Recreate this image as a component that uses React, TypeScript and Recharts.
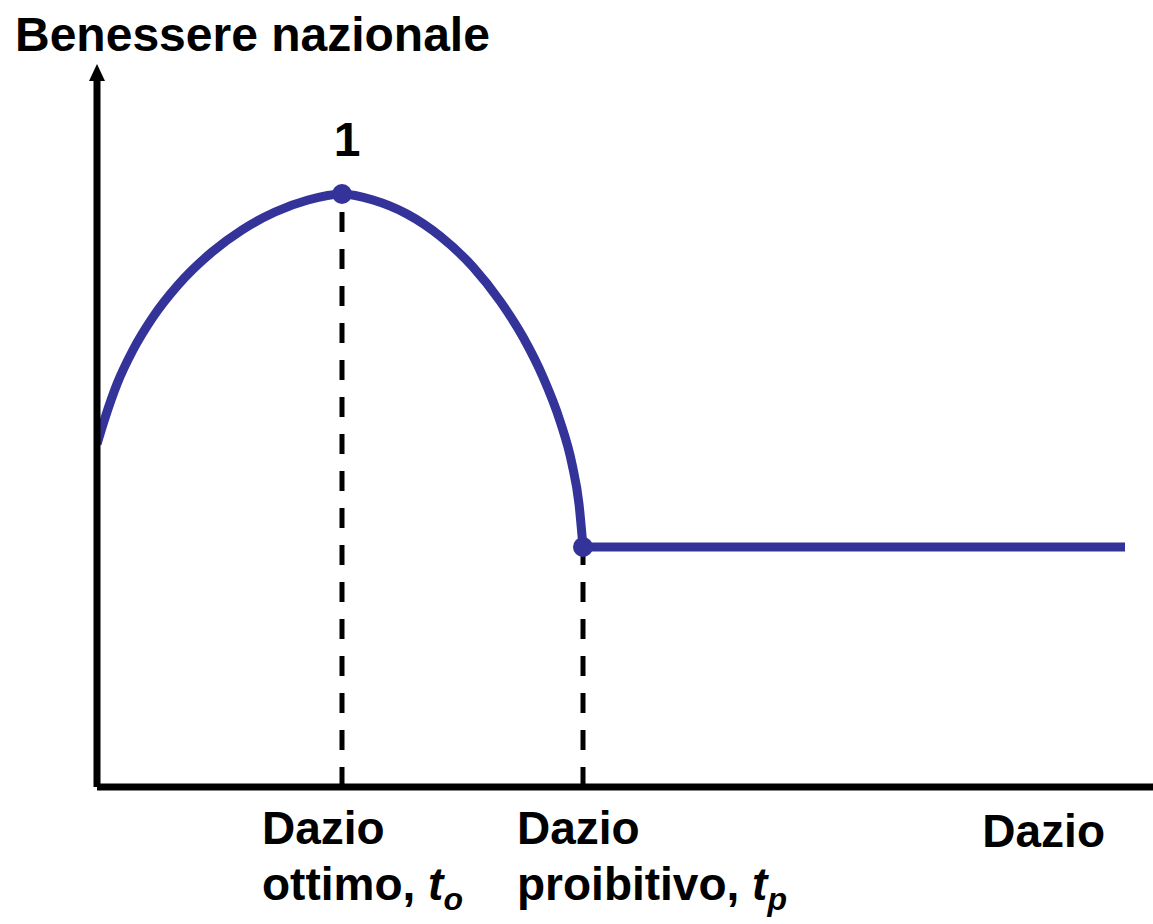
import React from 'react';
import {
  LineChart,
  Line,
  XAxis,
  YAxis,
  ReferenceLine,
  ReferenceDot,
} from 'recharts';

// welfare curve (x = tariff, y = national welfare)
const arcTariff = [0, 0.8, 2.0, 3.6, 5.6, 8.1, 11.5, 14.5, 17.8, 21.1, 24.5, 27.6, 31.0, 34.3, 37.6, 40.3, 42.6, 44.6, 46.3, 47.5, 48.2, 48.6];
const arcWelfare = [34.3, 36.9, 40.3, 43.7, 47.0, 50.2, 53.5, 55.7, 57.5, 58.7, 59.3, 58.7, 57.3, 55.1, 52.0, 48.6, 45.0, 41.0, 36.6, 32.3, 28.3, 24.0];

// beyond the prohibitive tariff welfare stays flat
const flatTariff = [48.6, 102.8];
const flatWelfare = [24.0, 24.0];

// marked points: optimum tariff (1) and prohibitive tariff
const markedX = [24.5, 48.6];
const markedY = [59.3, 24.0];
const markedLabels = ['1', ''];

const tickLines = [
  ['Dazio', 'ottimo, ', 'o'],
  ['Dazio', 'proibitivo, ', 'p'],
];

const X_MAX = 105.6;
const Y_MAX = 71.2;

const arcData = arcTariff.map((x, i) => ({ x, y: arcWelfare[i] }));
const flatData = flatTariff.map((x, i) => ({ x, y: flatWelfare[i] }));

const BLUE = '#333399';
const FONT = '"Liberation Sans", Arial, Helvetica, sans-serif';
const TICK_DX = [-80, -66];

function DazioTick(props: any) {
  const { x, index } = props;
  const y = 787;
  const [first, second, sub] = tickLines[index];
  const dx = TICK_DX[index] ?? -70;
  return (
    <g fontFamily={FONT} fontWeight="bold" fontSize={46} fill="#000">
      <text x={x + dx} y={y + 57}>{first}</text>
      <text x={x + dx} y={y + 113}>
        {second}
        <tspan fontStyle="italic">t</tspan>
        <tspan fontStyle="italic" fontSize={32} dy={10}>{sub}</tspan>
      </text>
    </g>
  );
}

function ArrowHead(props: any) {
  const { cx, cy } = props;
  return (
    <polygon
      points={`${cx},${cy - 11} ${cx - 8},${cy + 6} ${cx + 8},${cy + 6}`}
      fill="#000"
    />
  );
}

function MarkDot(label: string) {
  return (props: any) => {
    const { cx, cy } = props;
    return (
      <g>
        <circle cx={cx} cy={cy} r={10} fill={BLUE} />
        {label && (
          <text
            x={cx + 5}
            y={cy - 38}
            textAnchor="middle"
            fontFamily={FONT}
            fontWeight="bold"
            fontSize={48}
            fill="#000"
          >
            {label}
          </text>
        )}
      </g>
    );
  };
}

export default function App() {
  return (
    <div style={{ width: 1153, height: 924, background: '#fff' }}>
      <style>{`body{margin:0;}`}</style>
      <LineChart
        width={1153}
        height={924}
        margin={{ top: 75, right: 0, bottom: 27, left: 96 }}
      >
        <XAxis
          dataKey="x"
          type="number"
          domain={[0, X_MAX]}
          allowDataOverflow
          ticks={markedX}
          interval={0}
          height={110}
          tickSize={0}
          tickMargin={0}
          tickLine={false}
          axisLine={{ stroke: '#000', strokeWidth: 7 }}
          tick={<DazioTick />}
          label={{
            content: (p: any) => {
              const vb = p.viewBox;
              return (
                <text
                  x={vb.x + vb.width - 48}
                  y={vb.y + 60}
                  textAnchor="end"
                  fontFamily={FONT}
                  fontWeight="bold"
                  fontSize={46}
                  fill="#000"
                >
                  Dazio
                </text>
              );
            },
          }}
        />
        <YAxis
          dataKey="y"
          type="number"
          domain={[0, Y_MAX]}
          allowDataOverflow
          width={1}
          tick={false}
          tickLine={false}
          axisLine={{ stroke: '#000', strokeWidth: 7 }}
          label={{
            content: (p: any) => {
              const vb = p.viewBox;
              return (
                <text
                  x={vb.x - 81}
                  y={vb.y - 24}
                  fontFamily={FONT}
                  fontWeight="bold"
                  fontSize={48}
                  fill="#000"
                >
                  Benessere nazionale
                </text>
              );
            },
          }}
        />
        <ReferenceDot x={0} y={Y_MAX} r={8} ifOverflow="visible" shape={<ArrowHead />} />
        {markedX.map((mx, i) => (
          <ReferenceLine
            key={`drop-${i}`}
            segment={[
              { x: mx, y: 0 },
              { x: mx, y: markedY[i] },
            ]}
            stroke="#000"
            strokeWidth={5}
            strokeDasharray="20 17"
            ifOverflow="visible"
          />
        ))}
        <Line
          data={arcData}
          type="monotone"
          dataKey="y"
          stroke={BLUE}
          strokeWidth={9}
          dot={false}
          activeDot={false}
          isAnimationActive={false}
        />
        <Line
          data={flatData}
          type="linear"
          dataKey="y"
          stroke={BLUE}
          strokeWidth={9}
          dot={false}
          activeDot={false}
          isAnimationActive={false}
        />
        {markedX.map((mx, i) => (
          <ReferenceDot
            key={`mark-${i}`}
            x={mx}
            y={markedY[i]}
            r={10}
            ifOverflow="visible"
            shape={MarkDot(markedLabels[i])}
          />
        ))}
      </LineChart>
    </div>
  );
}
